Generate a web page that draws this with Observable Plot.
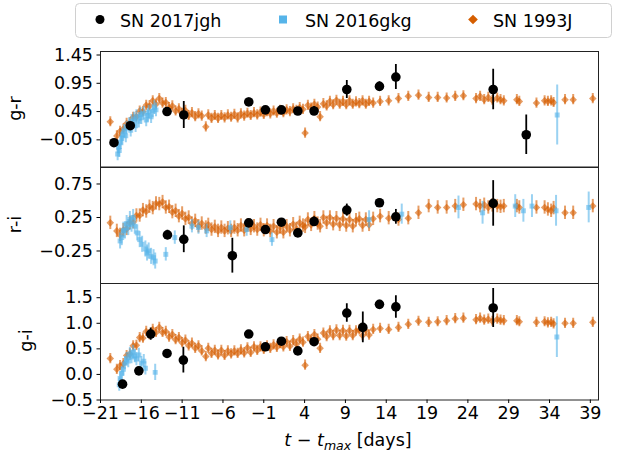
<!DOCTYPE html>
<html><head><meta charset="utf-8">
<script src="https://cdn.jsdelivr.net/npm/d3@7"></script>
<script src="https://cdn.jsdelivr.net/npm/@observablehq/plot@0.6"></script>
<style>
body{margin:0;background:#fff;}
#wrap{position:relative;width:620px;height:458px;font-family:"DejaVu Sans",sans-serif;overflow:hidden;}
</style></head><body><div id="wrap"></div>
<script>
// ---------------- data ----------------
const xTicks = [-21,-16,-11,-6,-1,4,9,14,19,24,29,34,39];
const grTicks = [1.45,0.95,0.45,-0.05];
const riTicks = [0.75,0.25,-0.25];
const giTicks = [1.5,1.0,0.5,0.0,-0.5];

// SN 2017jgh
const tJghGR = [-19.35,-17.35,-12.85,-10.8,-2.84,-0.8,1.16,3.17,5.16,9.17,13.17,15.18,27.1,31.15];
const grJgh  = [-0.10,0.20,0.45,0.39,0.62,0.48,0.48,0.46,0.46,0.84,0.895,1.06,0.84,0.04];
const grJghErr=[0.03,0.04,0.04,0.24,0.07,0.04,0.04,0.04,0.08,0.16,0.08,0.22,0.36,0.35];
const tJghRI = [-12.8,-10.8,-4.85,-2.84,-0.8,1.16,3.17,5.16,9.17,13.17,15.18,27.1];
const riJgh  = [-0.01,-0.075,-0.32,0.17,0.07,0.18,0.02,0.19,0.36,0.47,0.26,0.46];
const riJghErr=[0.07,0.20,0.26,0.05,0.04,0.04,0.05,0.07,0.09,0.06,0.11,0.34];
const tJghGI = [-18.3,-16.3,-14.85,-12.85,-10.85,-2.84,-0.8,1.16,3.17,5.16,9.17,11.13,13.17,15.18,27.1];
const giJgh  = [-0.19,0.07,0.79,0.41,0.28,0.79,0.54,0.65,0.46,0.64,1.20,0.92,1.37,1.32,1.30];
const giJghErr=[0.04,0.04,0.12,0.04,0.25,0.05,0.04,0.04,0.04,0.06,0.18,0.30,0.08,0.22,0.38];

// SN 2016gkg
const tGkgGR = [-18.9,-18.8,-18.7,-18.5,-18.4,-18.3,-18.1,-17.9,-17.8,-17.5,-17.3,-17.2,-16.9,-16.7,-16.6,-16.3,-16.1,-16.0,-15.7,-15.4,-15.2,-15.1,-14.8,-14.6,-14.4,-14.2,34.94];
const grGkg  = [-0.30,-0.18,-0.24,-0.10,-0.02,0.04,0.10,0.02,0.16,0.22,0.12,0.28,0.32,0.20,0.36,0.28,0.40,0.34,0.42,0.30,0.38,0.44,0.36,0.46,0.52,0.48,0.39];
const grGkgErr=[0.12,0.12,0.12,0.12,0.12,0.12,0.12,0.12,0.12,0.12,0.12,0.12,0.12,0.12,0.12,0.12,0.12,0.12,0.12,0.12,0.12,0.12,0.12,0.12,0.12,0.12,0.53];
const tGkgRI = [-18.6,-18.4,-18.2,-18.0,-17.8,-17.6,-17.4,-17.2,-17.0,-16.8,-16.5,-16.2,-15.9,-15.5,-15.3,-15.1,-14.8,-14.5,-14.3,-13.0,-11.9,-9.8,-9.0,-8.0,-5.1,-3.1,0.0,11.9,15.9,22.85,25.8,29.8,30.8,31.85,34.8,38.8];
const riGkg  = [-0.10,-0.05,0.06,0.05,0.16,0.10,0.22,0.15,0.25,0.12,0.02,-0.08,-0.15,-0.22,-0.28,-0.25,-0.33,-0.35,-0.40,-0.30,-0.05,0.12,0.10,0.05,0.10,0.07,-0.08,0.22,0.30,0.40,0.32,0.42,0.35,0.42,0.35,0.40];
const riGkgErr=[0.12,0.12,0.12,0.12,0.12,0.12,0.12,0.12,0.12,0.12,0.12,0.12,0.12,0.12,0.12,0.12,0.12,0.12,0.12,0.1,0.1,0.1,0.1,0.1,0.1,0.1,0.1,0.13,0.15,0.17,0.17,0.17,0.17,0.17,0.23,0.23];
const tGkgGI = [-18.7,-18.6,-18.4,-18.2,-18.0,-17.8,-17.6,-17.4,-17.2,-17.0,-16.8,-16.6,-16.3,-16.0,-15.7,-15.5,-14.3,34.9];
const giGkg  = [-0.20,-0.08,0.02,0.10,0.22,0.30,0.26,0.40,0.34,0.44,0.36,0.30,0.38,0.22,0.26,0.12,0.04,0.73];
const giGkgErr=[0.13,0.13,0.13,0.13,0.13,0.13,0.13,0.13,0.13,0.13,0.13,0.13,0.13,0.13,0.13,0.13,0.16,0.40];

// SN 1993J
const t1993 = [-19.8,-19.0,-18.6,-18.2,-17.8,-17.4,-17.0,-16.6,-16.2,-15.8,-15.4,-15.0,-14.6,-14.2,-13.8,-13.4,-13.0,-12.6,-12.2,-11.8,-11.4,-11.0,-10.6,-10.2,-9.8,-9.4,-9.0,-8.6,-8.1,-7.8,-7.4,-7.0,-6.6,-6.2,-5.8,-5.4,-5.0,-4.6,-4.2,-3.8,-3.4,-3.0,-2.6,-2.2,-1.8,-1.4,-1.0,-0.6,-0.2,0.2,0.6,1.0,1.4,1.8,2.2,2.6,3.0,3.4,3.8,4.06,4.4,4.8,5.2,5.6,5.9,6.3,6.7,7.1,7.5,7.9,8.3,8.7,9.1,9.5,9.9,10.3,10.7,11.1,11.5,11.9,12.4,13.25,14.3,15.5,16.7,17.95,19.2,20.3,21.4,22.45,23.45,25.0,25.5,26.0,26.5,27.0,27.6,28.0,28.4,30.0,30.3,32.4,33.4,33.8,34.2,34.5,35.9,36.9,39.3];
const gr1993 = [0.27,0.02,0.10,0.14,0.24,0.25,0.35,0.36,0.46,0.45,0.56,0.55,0.64,0.58,0.68,0.60,0.61,0.52,0.55,0.46,0.50,0.42,0.47,0.38,0.43,0.36,0.41,0.37,0.18,0.39,0.33,0.38,0.33,0.38,0.34,0.39,0.35,0.40,0.34,0.41,0.37,0.42,0.38,0.43,0.39,0.44,0.40,0.45,0.41,0.46,0.42,0.47,0.43,0.48,0.45,0.50,0.47,0.52,0.49,0.07,0.56,0.51,0.58,0.53,0.36,0.59,0.55,0.63,0.57,0.65,0.58,0.63,0.57,0.64,0.58,0.62,0.59,0.64,0.58,0.63,0.60,0.63,0.64,0.68,0.72,0.74,0.70,0.70,0.69,0.72,0.73,0.68,0.72,0.66,0.70,0.65,0.69,0.66,0.64,0.66,0.63,0.60,0.64,0.63,0.64,0.61,0.66,0.66,0.68];
const ri1993 = [0.17,0.05,-0.01,0.06,0.08,0.17,0.18,0.28,0.28,0.36,0.34,0.41,0.39,0.46,0.45,0.48,0.40,0.41,0.33,0.35,0.27,0.31,0.23,0.25,0.16,0.20,0.12,0.16,0.10,0.14,0.07,0.11,0.05,0.10,0.05,0.09,0.05,0.10,0.06,0.13,0.06,0.13,0.08,0.12,0.07,0.14,0.06,0.13,0.05,0.12,0.03,0.10,0.03,0.12,0.06,0.15,0.08,0.17,0.13,0.11,0.22,0.14,0.24,0.16,0.12,0.25,0.17,0.25,0.15,0.24,0.14,0.23,0.13,0.22,0.12,0.21,0.23,0.13,0.22,0.14,0.23,0.27,0.24,0.22,0.24,0.32,0.42,0.40,0.40,0.42,0.44,0.45,0.42,0.44,0.40,0.43,0.42,0.41,0.42,0.42,0.40,0.40,0.40,0.37,0.35,0.39,0.32,0.32,0.42];
const gi1993 = [0.31,0.10,0.17,0.21,0.37,0.40,0.56,0.57,0.72,0.71,0.84,0.78,0.88,0.82,0.92,0.82,0.84,0.73,0.78,0.68,0.72,0.62,0.67,0.56,0.61,0.51,0.56,0.46,0.35,0.51,0.41,0.47,0.38,0.47,0.37,0.46,0.40,0.46,0.41,0.48,0.42,0.52,0.43,0.54,0.47,0.54,0.49,0.56,0.51,0.58,0.53,0.60,0.54,0.64,0.55,0.66,0.59,0.69,0.63,0.18,0.74,0.67,0.78,0.69,0.51,0.81,0.74,0.85,0.76,0.87,0.76,0.86,0.75,0.86,0.76,0.85,0.87,0.76,0.86,0.77,0.88,0.90,0.88,0.92,0.98,1.04,1.02,1.03,1.05,1.09,1.10,1.07,1.10,1.06,1.08,1.04,1.08,1.06,1.05,1.05,1.03,1.02,1.03,1.01,1.02,0.99,1.00,1.00,1.02];
const err1993GR = 0.09, err1993RI = 0.10, err1993GI = 0.10;

const names = ["SN 2017jgh","SN 2016gkg","SN 1993J"];
const colors = ["#000000","#56B4E9","#D55E00"];

// ---------------- drawing ----------------
const rows = (t, v, e) => t.map((x, i) => ({t: x, v: v[i], e: Array.isArray(e) ? e[i] : e}));
const minus = s => s.replace("-", "\u2212");
const wrap = document.getElementById("wrap");
const FONT = "DejaVu Sans, sans-serif";

function panel({top, inner, domain, ticks, fmt, jgh, gkg, sn93, xAxis}) {
  const mt = 4, mb = xAxis ? 59 : 4;
  const series = (data, color, symbol, r, op, sw) => [
    Plot.ruleX(data, {x: "t", y1: d => d.v - d.e, y2: d => d.v + d.e, stroke: color, strokeOpacity: op, strokeWidth: sw, clip: true}),
    Plot.dot(data, {x: "t", y: "v", symbol, r, fill: color, fillOpacity: op, stroke: "none", clip: true})
  ];
  const p = Plot.plot({
    width: 620, height: inner + mt + mb,
    marginLeft: 100, marginRight: 22, marginTop: mt, marginBottom: mb,
    style: {fontFamily: FONT, fontSize: "17.5px", color: "#000", background: "transparent", overflow: "visible"},
    x: {domain: [-21, 40], axis: xAxis ? undefined : null},
    y: {domain},
    marks: [
      ...series(sn93, colors[2], "diamond2", 3.4, 0.6, 2),
      ...series(gkg, colors[1], "square", 2.8, 0.6, 2),
      ...series(jgh, colors[0], "circle", 4.8, 1, 1.8),
      Plot.frame({stroke: "#222", strokeWidth: 1}),
      Plot.axisY({ticks, tickFormat: fmt, tickSize: 3.5, tickPadding: 4, label: null, fontSize: 17.5}),
      xAxis ? Plot.axisX({ticks: xTicks, tickFormat: d => minus(String(d)), tickSize: 3.5, tickPadding: 3, label: null, fontSize: 17.5}) : null
    ]
  });
  p.style.position = "absolute";
  p.style.left = "0px";
  p.style.top = (top - mt) + "px";
  wrap.appendChild(p);
}

panel({top: 51, inner: 115.5, domain: [-0.53, 1.512], ticks: grTicks, fmt: d => minus(d.toFixed(2)),
  jgh: rows(tJghGR, grJgh, grJghErr), gkg: rows(tGkgGR, grGkg, grGkgErr), sn93: rows(t1993, gr1993, err1993GR)});
panel({top: 166.5, inner: 116, domain: [-0.735, 0.996], ticks: riTicks, fmt: d => minus(d.toFixed(2)),
  jgh: rows(tJghRI, riJgh, riJghErr), gkg: rows(tGkgRI, riGkg, riGkgErr), sn93: rows(t1993, ri1993, err1993RI)});
panel({top: 282.5, inner: 116.5, domain: [-0.5, 1.778], ticks: giTicks, fmt: d => minus(d.toFixed(1)),
  jgh: rows(tJghGI, giJgh, giJghErr), gkg: rows(tGkgGI, giGkg, giGkgErr), sn93: rows(t1993, gi1993, err1993GI), xAxis: true});

// overlay: legend, axis labels
const svg = d3.select(wrap).append("svg")
  .attr("width", 620).attr("height", 458)
  .style("position", "absolute").style("left", "0px").style("top", "0px")
  .style("font-family", FONT).style("font-size", "17.5px");

const lg = svg.append("g");
lg.append("rect").attr("x", 75.5).attr("y", 3.5).attr("width", 536).attr("height", 34)
  .attr("rx", 4).attr("fill", "#fff").attr("stroke", "#d0d0d0");
const itemX = [100, 283, 473], textX = [120, 305, 493];
lg.append("circle").attr("cx", itemX[0]).attr("cy", 19.5).attr("r", 4.5).attr("fill", colors[0]);
lg.append("rect").attr("x", itemX[1] - 4).attr("y", 15.5).attr("width", 8).attr("height", 8).attr("fill", colors[1]);
lg.append("path").attr("d", d3.symbol(d3.symbolDiamond2, 60)()).attr("transform", `translate(${itemX[2]},19.5)`).attr("fill", colors[2]);
names.forEach((n, i) => lg.append("text").attr("x", textX[i]).attr("y", 26.5).text(n));

const ylab = [["g-r", 21, 108.5], ["r-i", 21, 224.5], ["g-i", 32, 340.5]];
ylab.forEach(([s, x, y]) => svg.append("text").attr("transform", `translate(${x},${y}) rotate(-90)`)
  .attr("text-anchor", "middle").text(s));

const xl = svg.append("text").attr("x", 348).attr("y", 446).attr("text-anchor", "middle");
xl.append("tspan").attr("font-style", "italic").text("t");
xl.append("tspan").text(" \u2212 ");
xl.append("tspan").attr("font-style", "italic").text("t");
xl.append("tspan").attr("font-style", "italic").attr("font-size", "12.5px").attr("dy", 4).text("max");
xl.append("tspan").attr("dy", -4).text(" [days]");
</script></body></html>
